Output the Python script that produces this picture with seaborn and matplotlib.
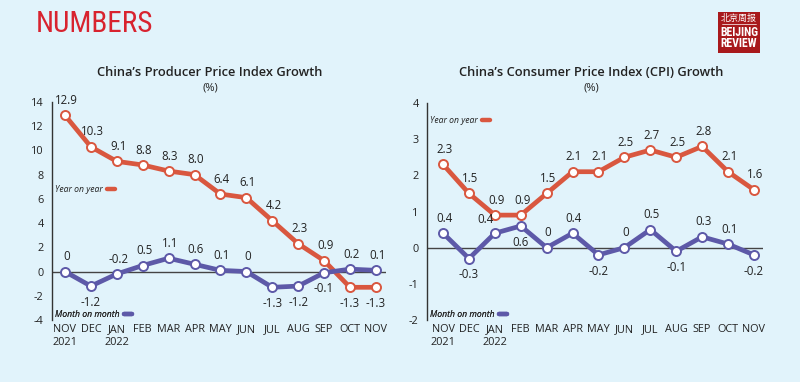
"""China PPI / CPI growth, Nov 2021 - Nov 2022 (Beijing Review 'Numbers' page)."""

import matplotlib.pyplot as plt
import seaborn as sns
from matplotlib import font_manager
from matplotlib.lines import Line2D
from matplotlib.patches import Rectangle

months = ["NOV\n2021", "DEC", "JAN\n2022", "FEB", "MAR", "APR", "MAY",
          "JUN", "JUL", "AUG", "SEP", "OCT", "NOV"]
ppi_yoy = [12.9, 10.3, 9.1, 8.8, 8.3, 8.0, 6.4, 6.1, 4.2, 2.3, 0.9, -1.3, -1.3]
ppi_mom = [0, -1.2, -0.2, 0.5, 1.1, 0.6, 0.1, 0, -1.3, -1.2, -0.1, 0.2, 0.1]
cpi_yoy = [2.3, 1.5, 0.9, 0.9, 1.5, 2.1, 2.1, 2.5, 2.7, 2.5, 2.8, 2.1, 1.6]
cpi_mom = [0.4, -0.3, 0.4, 0.6, 0, 0.4, -0.2, 0, 0.5, -0.1, 0.3, 0.1, -0.2]

# where each value label sits: t = above, b = below, l = above-left
ppi_yoy_lab = list("tttttttttttbb")
ppi_mom_lab = list("tbttttttbbbtt")
cpi_yoy_lab = list("ttttttttttttt")
cpi_mom_lab = list("tblbttbttbttb")

BG = "#e1f3fb"
RED = "#d9573f"
PURPLE = "#5d59a8"
TEXT = "#222222"

available = {f.name for f in font_manager.fontManager.ttflist}


def pick(*names):
    for n in names:
        if n in available:
            return n
    return "DejaVu Sans"


BODY = pick("Open Sans", "Lato", "DejaVu Sans")
NARROW = pick("Liberation Sans Narrow", "Roboto Condensed", "DejaVu Sans")

sns.set_theme(style="white")
plt.rcParams.update({
    "font.family": [BODY, "DejaVu Sans"],
    "axes.facecolor": BG,
    "figure.facecolor": BG,
})

fig = plt.figure(figsize=(8, 3.82), dpi=100)


def fmt(v):
    return "0" if v == 0 else f"{v:.1f}"


def label_points(ax, values, where):
    offsets = {"t": (1, 6, "bottom"), "b": (0, -7, "top"), "l": (-7, 5, "bottom")}
    for i, (v, w) in enumerate(zip(values, where)):
        dx, dy, va = offsets[w]
        ax.annotate(fmt(v), (i, v), xytext=(dx, dy), textcoords="offset points",
                    ha="center", va=va, fontsize=8.3, color=TEXT)


def draw_panel(rect, yoy, mom, yoy_lab, mom_lab, ylim, yticks, xlim,
               title, title_x, yoy_leg_y):
    ax = fig.add_axes(rect)
    x = list(range(len(months)))
    for vals, color in ((yoy, RED), (mom, PURPLE)):
        sns.lineplot(x=x, y=vals, ax=ax, color=color, linewidth=3.4,
                     marker="o", markersize=6.5, markerfacecolor="white",
                     markeredgecolor=color, markeredgewidth=1.4, zorder=3)
    ax.axhline(0, color="#444444", linewidth=1, zorder=2)
    label_points(ax, yoy, yoy_lab)
    label_points(ax, mom, mom_lab)

    ax.set_xlim(*xlim)
    ax.set_ylim(*ylim)
    ax.set_yticks(yticks)
    ax.set_yticklabels([str(t) for t in yticks])
    ax.set_xticks(x)
    ax.set_xticklabels(months)
    ax.tick_params(axis="both", length=0, labelsize=7.8, colors=TEXT)
    ax.tick_params(axis="x", pad=3)
    ax.tick_params(axis="y", pad=6)
    for lbl in ax.get_xticklabels():
        lbl.set_verticalalignment("top")
    sns.despine(ax=ax, bottom=True)
    ax.spines["left"].set_color("#333333")
    ax.spines["left"].set_linewidth(1)

    leg_font = {"size": 6.2, "style": "italic"}
    for text, color, ypos in (("Year on year", RED, yoy_leg_y),
                              ("Month on month", PURPLE, 0.025)):
        h = Line2D([], [], color=color, linewidth=3.2, solid_capstyle="round")
        leg = ax.legend(handles=[h], labels=[text], loc="center left",
                        bbox_to_anchor=(0.0, ypos), frameon=False,
                        markerfirst=False, handlelength=1.0, handletextpad=0.5,
                        borderpad=0, borderaxespad=0.3, prop=leg_font,
                        labelcolor=TEXT)
        ax.add_artist(leg)

    fig.text(title_x, 1 - 73 / 382, title, ha="center", va="center",
             fontsize=9.3, fontweight="semibold", color=TEXT)
    fig.text(title_x, 1 - 88 / 382, "(%)", ha="center", va="center",
             fontsize=8, color=TEXT)
    return ax


draw_panel([52 / 800, 1 - 320 / 382, 334 / 800, 218 / 382],
           ppi_yoy, ppi_mom, ppi_yoy_lab, ppi_mom_lab,
           (-4, 14), list(range(-4, 15, 2)), (-0.5, 12.39),
           "China\u2019s Producer Price Index Growth", 210 / 800, 0.6)

draw_panel([427 / 800, 1 - 320 / 382, 336 / 800, 217 / 382],
           cpi_yoy, cpi_mom, cpi_yoy_lab, cpi_mom_lab,
           (-2, 4), list(range(-2, 5)), (-0.62, 12.35),
           "China\u2019s Consumer Price Index (CPI) Growth", 591 / 800, 0.92)

# page header
fig.text(36 / 800, 1 - 24 / 382, "NUMBERS", ha="left", va="center",
         fontsize=21, color="#d8232f", family=NARROW)

# logo
fig.patches.append(Rectangle((718 / 800, 1 - 53 / 382), 42 / 800, 41 / 382,
                             transform=fig.transFigure, facecolor="#a8191c",
                             edgecolor="none"))
fig.text(739 / 800, 1 - 18.5 / 382, "北京周报", ha="center", va="center",
         fontsize=6.5, color="white",
         family=["Noto Sans CJK SC", "DejaVu Sans"])
fig.lines.append(Line2D([722 / 800, 756 / 800], [1 - 23.5 / 382, 1 - 23.5 / 382],
                        transform=fig.transFigure, color="white", linewidth=0.5))
fig.text(739 / 800, 1 - 32 / 382, "BEIJING", ha="center", va="center",
         fontsize=8.5, color="white", fontweight="bold", family=NARROW)
fig.text(739 / 800, 1 - 43.5 / 382, "REVIEW", ha="center", va="center",
         fontsize=8.5, color="white", fontweight="bold", family=NARROW)

fig.savefig("out.png", dpi=100, facecolor=BG)
